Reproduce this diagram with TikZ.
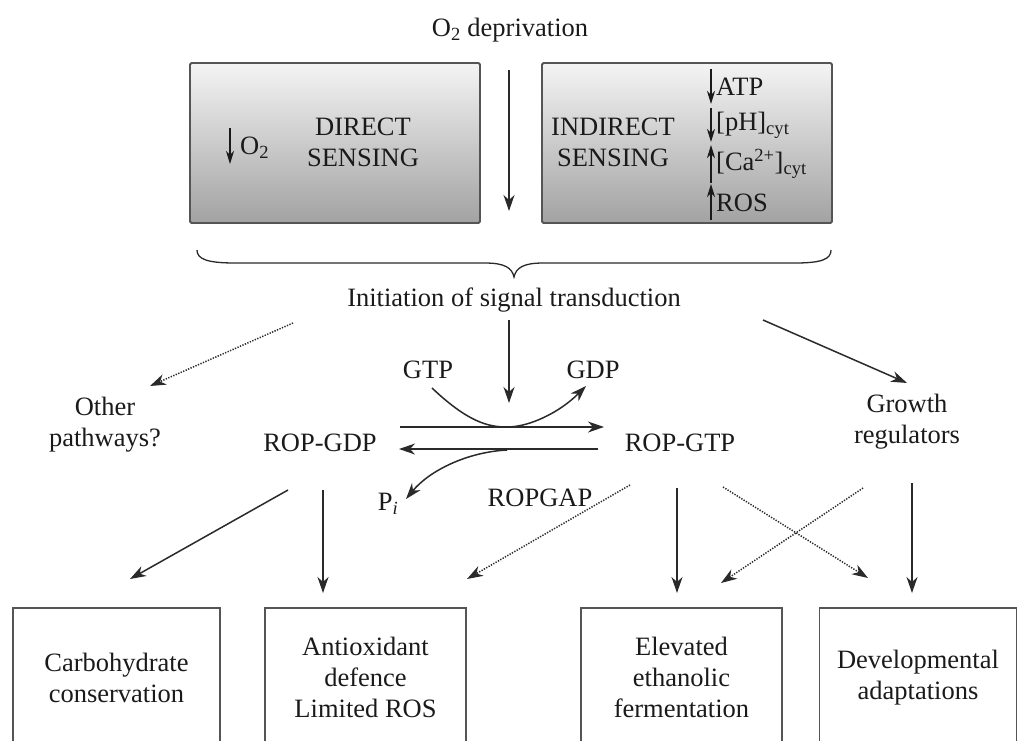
\documentclass[tikz,border=0pt]{standalone}
\usepackage{fontspec}
\setmainfont{Liberation Serif}
\usetikzlibrary{arrows.meta}
\definecolor{ink}{HTML}{1A1A1A}
\definecolor{lineclr}{HTML}{2A2A2A}
\definecolor{topg}{HTML}{F4F4F4}
\definecolor{botg}{HTML}{A2A2A2}
\definecolor{boxline}{HTML}{555555}
\tikzset{
  txt/.style={font=\fontsize{26.5}{31}\selectfont, text=ink, align=center, inner sep=0pt},
  graybox/.style={draw=boxline, line width=1.8pt, rounded corners=1.5pt, top color=topg, bottom color=botg, minimum width=290pt, minimum height=160pt, inner sep=0pt},
  outbox/.style={draw=boxline, line width=1.8pt, txt, anchor=north, minimum height=140pt},
  arr/.style={draw=lineclr, line width=1.5pt, -{Stealth[length=16pt,width=11pt,inset=5pt]}},
  darr/.style={draw=lineclr, line width=1.5pt, dash pattern=on 1.3pt off 1.4pt, -{Stealth[length=16pt,width=11pt,inset=5pt,fill=lineclr]}},
  sarr/.style={draw=ink, line width=1.3pt, -{Stealth[length=13pt,width=8pt,inset=4pt]}},
  plainline/.style={draw=lineclr, line width=1.4pt}
}
\begin{document}
\begin{tikzpicture}[x=1pt,y=-1pt]
\useasboundingbox (0,0) rectangle (1019,740);
\clip (0,0) rectangle (1019,740);
% top
\node[txt] (dep) at (510,30) {O\textsubscript{2} deprivation};
\node[graybox] (direct) at (335,143) {};
\node[graybox] (indirect) at (687,143) {};
\node[txt] (dirtxt) at (363,142) {DIRECT\\SENSING};
\node[txt] (indtxt) at (613,142) {INDIRECT\\SENSING};
\node[txt, anchor=west] (o2) at (240,148) {O\textsubscript{2}};
\coordinate (o2a) at (230,128); \coordinate (o2b) at (230,164);
\draw[sarr] (o2a) -- (o2b);
\node[txt, anchor=west] (atp) at (716,87) {ATP};
\node[txt, anchor=west] (ph) at (716,125) {[pH]\textsubscript{cyt}};
\node[txt, anchor=west] (ca) at (716,164) {[Ca\textsuperscript{2+}]\textsubscript{cyt}};
\node[txt, anchor=west] (ros) at (716,203) {ROS};
\coordinate (atpa) at (711,69); \coordinate (atpb) at (711,104);
\coordinate (pha) at (711,108); \coordinate (phb) at (711,142);
\coordinate (caa) at (711,183); \coordinate (cab) at (711,145);
\coordinate (rosa) at (711,220); \coordinate (rosb) at (711,184);
\draw[sarr] (atpa) -- (atpb);
\draw[sarr] (pha) -- (phb);
\draw[sarr] (caa) -- (cab);
\draw[sarr] (rosa) -- (rosb);
\coordinate (mida) at (509,70); \coordinate (midb) at (509,211);
\draw[arr] (mida) -- (midb);
% brace
\coordinate (brL) at (197,250); \coordinate (brT) at (514,277); \coordinate (brR) at (831,250);
\draw[plainline, line width=1.3pt] (brL) .. controls (197,259) and (207,263) .. (235,263) -- (485,263)
  .. controls (505,263) and (512,268) .. (brT) .. controls (516,268) and (523,263) .. (543,263) -- (795,263)
  .. controls (822,263) and (831,259) .. (brR);
\node[txt] (init) at (514,300) {Initiation of signal transduction};
% middle
\node[txt] (other) at (105,425) {Other\\pathways?};
\node[txt] (grow) at (907,422) {Growth\\regulators};
\node[txt] (gtp) at (428,370) {GTP};
\node[txt] (gdp) at (593,370) {GDP};
\node[txt] (rgdp) at (320,443) {ROP-GDP};
\node[txt] (rgtp) at (680,443) {ROP-GTP};
\node[txt] (gap) at (540,498) {ROPGAP};
\node[txt] (pi) at (388,504) {P\textsubscript{\textit{i}}};
\coordinate (i1) at (293,323); \coordinate (o1) at (150,386);
\draw[darr] (i1) -- (o1);
\coordinate (i2) at (509,320); \coordinate (c2) at (509,403);
\draw[arr] (i2) -- (c2);
\coordinate (i3) at (763,320); \coordinate (g3) at (907,383);
\draw[arr] (i3) -- (g3);
\coordinate (fa) at (400,427); \coordinate (fb) at (604,427);
\draw[arr] (fa) -- (fb);
\coordinate (ba) at (598,449); \coordinate (bb) at (399,449);
\draw[arr] (ba) -- (bb);
\coordinate (gtpS) at (432,388); \coordinate (tan1) at (507,427); \coordinate (gdpE) at (586,386);
\draw[arr] (gtpS) .. controls (468,422) and (488,427) .. (tan1) .. controls (530,427) and (560,412) .. (gdpE);
\coordinate (tan2) at (507,450); \coordinate (piE) at (406,499);
\draw[arr] (tan2) .. controls (468,452) and (430,470) .. (piE);
% bottom boxes
\node[outbox, minimum width=207pt] (carb) at (116.5,607) {Carbohydrate\\conservation};
\node[outbox, minimum width=201pt] (anti) at (365.5,607) {Antioxidant\\defence\\Limited ROS};
\node[outbox, minimum width=201pt] (etha) at (681.5,607) {Elevated\\ethanolic\\fermentation};
\node[outbox, minimum width=197pt] (dev) at (918,607) {Developmental\\adaptations};
% lower arrows
\coordinate (r1) at (288,490); \coordinate (e1) at (130,579);
\draw[arr] (r1) -- (e1);
\coordinate (r2) at (323,490); \coordinate (e2) at (323,593);
\draw[arr] (r2) -- (e2);
\coordinate (r3) at (630,485); \coordinate (e3) at (467,579);
\draw[darr] (r3) -- (e3);
\coordinate (r4) at (677,488); \coordinate (e4) at (677,593);
\draw[arr] (r4) -- (e4);
\coordinate (r5) at (723,487); \coordinate (e5) at (868,578);
\draw[darr] (r5) -- (e5);
\coordinate (r6) at (863,488); \coordinate (e6) at (721,583);
\draw[darr] (r6) -- (e6);
\coordinate (r7) at (912,483); \coordinate (e7) at (912,593);
\draw[arr] (r7) -- (e7);
\end{tikzpicture}
\end{document}
